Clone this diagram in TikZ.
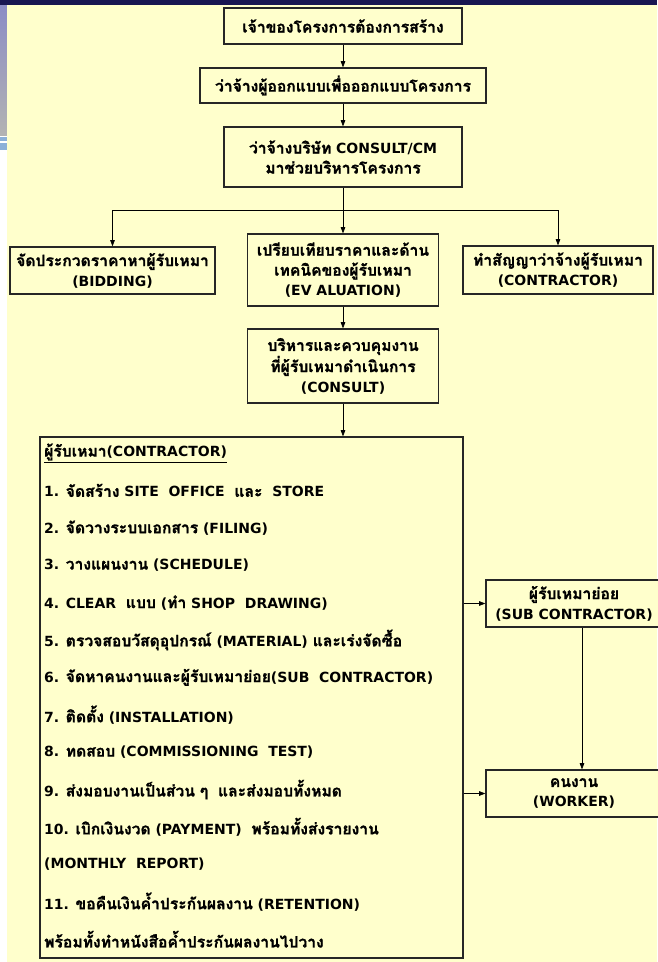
\documentclass[tikz,border=0pt]{standalone}
\usepackage{fontspec}
\setmainfont{DejaVu Sans}
\newfontfamily\thaifont[Script=Thai,Scale=1.12,BoldFeatures={FakeBold=1.2}]{Loma}
% Thai runs in Loma, the rest in DejaVu Sans
\XeTeXinterchartokenstate=1
\newXeTeXintercharclass\thaiclass
\count255="0E00
\loop\XeTeXcharclass\count255=\thaiclass\ifnum\count255<"0E7F\advance\count255 by 1\repeat
\XeTeXinterchartoks 0 \thaiclass={\thaifont}
\XeTeXinterchartoks 4095 \thaiclass={\thaifont}
\XeTeXinterchartoks \thaiclass 0={\rmfamily}
\XeTeXinterchartoks \thaiclass 4095={\rmfamily}
\usepackage{tikz}
\usetikzlibrary{arrows.meta,positioning}
\definecolor{slideyellow}{RGB}{255,255,204}
\definecolor{slidenavy}{RGB}{24,22,82}
\definecolor{slideblue}{RGB}{60,62,160}
\definecolor{slidebar}{RGB}{140,176,216}

\begin{document}
\begin{tikzpicture}[x=1pt,y=-1pt,font=\bfseries\fontsize{14}{20}\selectfont,
  >={Triangle[length=2.2mm,width=1.6mm]},
  box/.style={draw=black!85,line width=1.2pt,fill=slideyellow,align=center,inner sep=2pt},
  itm/.style={anchor=west,inner sep=0pt},
  arr/.style={->,line width=0.7pt}]
\useasboundingbox (0,0) rectangle (657,962);
% slide background
\fill[white] (0,0) rectangle (657,962);
\shade[top color=slideblue!60,middle color=slideblue,bottom color=gray!60] (0,0) rectangle (7,135);
\fill[slidebar] (0,137) rectangle (7,141);
\fill[slidebar] (0,143) rectangle (7,150);
\fill[slidenavy] (0,0) rectangle (657,5);
\fill[slideyellow] (7,5) rectangle (657,962);
% top chain
\node[box,minimum width=238pt,minimum height=36pt] (own) at (343,26) {เจ้าของโครงการต้องการสร้าง};
\node[box,minimum width=286pt,minimum height=35pt] (design) at (343,85.5) {ว่าจ้างผู้ออกแบบเพื่อออกแบบโครงการ};
\node[box,minimum width=238pt,minimum height=60pt] (consult) at (343,157) {ว่าจ้างบริษัท CONSULT/CM\\มาช่วยบริหารโครงการ};
\node[box,minimum width=205pt,minimum height=47pt] (bid) at (112.5,270.5) {จัดประกวดราคาหาผู้รับเหมา\\(BIDDING)};
\node[box,minimum width=191pt,minimum height=72pt] (eval) at (343,270) {เปรียบเทียบราคาและด้าน\\เทคนิคของผู้รับเหมา\\(EV ALUATION)};
\node[box,minimum width=190pt,minimum height=48pt] (sign) at (558,270) {ทำสัญญาว่าจ้างผู้รับเหมา\\(CONTRACTOR)};
\node[box,minimum width=191pt,minimum height=74pt] (manage) at (343,366) {บริหารและควบคุมงาน\\ที่ผู้รับเหมาดำเนินการ\\(CONSULT)};
\draw[arr] (own)--(design);\draw[arr] (design)--(consult);
\path (consult.south) ++(0,23) coordinate (split);
\draw[line width=0.7pt] (consult.south)--(split);
\draw[arr] (split)-|(bid.north);\draw[arr] (split)--(eval.north);\draw[arr] (split)-|(sign.north);
\draw[arr] (eval)--(manage);
% contractor tasks
\node[box,minimum width=423pt,minimum height=521pt] (cont) at (251.5,697.5) {};
\draw[arr] (manage)--(cont.north -| manage);
\foreach \k/\t in {0/{\underline{ผู้รับเหมา(CONTRACTOR)}},
  1/{1. จัดสร้าง SITE~ OFFICE~ และ~ STORE},
  2/{2. จัดวางระบบเอกสาร (FILING)},
  3/{3. วางแผนงาน (SCHEDULE)},
  4/{4. CLEAR~ แบบ (ทำ SHOP~ DRAWING)},
  5/{5. ตรวจสอบวัสดุอุปกรณ์ (MATERIAL) และเร่งจัดซื้อ},
  6/{6. จัดหาคนงานและผู้รับเหมาย่อย(SUB~ CONTRACTOR)},
  7/{7. ติดตั้ง (INSTALLATION)},
  8/{8. ทดสอบ (COMMISSIONING~ TEST)},
  9/{9. ส่งมอบงานเป็นส่วน ๆ~ และส่งมอบทั้งหมด},
  10/{10. เบิกเงินงวด (PAYMENT)~ พร้อมทั้งส่งรายงาน},
  11/{(MONTHLY~ REPORT)},
  12/{11. ขอคืนเงินค้ำประกันผลงาน (RETENTION)},
  13/{พร้อมทั้งทำหนังสือค้ำประกันผลงานไปวาง}}
  \node[itm] (item\k) at (44,{453+37.4*\k}) {\t};
% sub contractor and worker
\node[box,minimum width=176pt,minimum height=47pt] (sub) at (574,603.5) {ผู้รับเหมาย่อย\\(SUB CONTRACTOR)};
\node[box,minimum width=176pt,minimum height=47pt] (worker) at (574,793.5) {คนงาน\\(WORKER)};
\draw[arr] (cont.east |- sub.west)--(sub.west);
\draw[arr] (cont.east |- worker.west)--(worker.west);
\draw[arr] ([xshift=8pt]sub.south)--([xshift=8pt]worker.north);
\end{tikzpicture}
\end{document}
